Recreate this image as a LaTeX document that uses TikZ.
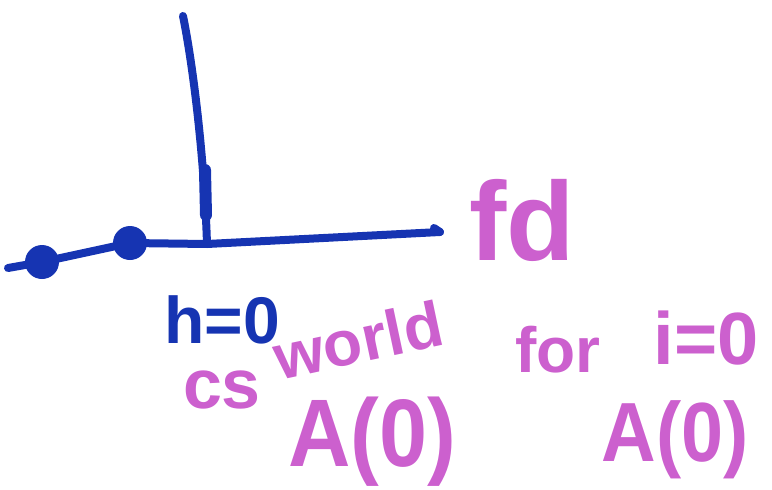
\documentclass[tikz,border=0pt]{standalone}
\usepackage{fontspec}
\setmainfont{Liberation Sans}
\usepackage{xcolor}
\usetikzlibrary{arrows.meta,positioning}

\definecolor{penblue}{RGB}{22,52,178}
\definecolor{penpink}{RGB}{204,96,206}

\begin{document}
\begin{tikzpicture}[
x=1pt, y=-1pt,
stroke/.style={draw=penblue, line width=8pt, line cap=round},
dot/.style={circle, fill=penblue, inner sep=0pt, minimum size=34pt},
blue label/.style={text=penblue, font=\bfseries\fontsize{66}{66}\selectfont, inner sep=0pt},
pink label/.style={text=penpink, font=\bfseries\fontsize{#1}{#1}\selectfont, inner sep=0pt},
pink label/.default=90
]
\useasboundingbox (0,0) rectangle (772,490);
% axes
\coordinate (xstart) at (8,268);
\coordinate (xend) at (440,232);
\coordinate (ytop) at (183,16);
\coordinate (origin) at (207,244);
\node[dot] (p0) at (42,262) {};
\node[dot] (p1) at (130,243) {};
\draw[stroke] (xstart) -- (p0.center) -- (p1.center) -- (origin) -- (xend);
\draw[stroke] (xend) -- ++(-6,-4);
\draw[stroke] (ytop) .. controls (192,60) and (204,150) .. (origin);
\draw[stroke, line width=12pt] (205,170) -- (206,215);
% labels
\node[pink label=112] (fd) at (522,220) {fd};
\node[blue label] (hzero) at (222,320) {h=0};
\node[pink label=70] (cs) at (222,390) {cs};
\node[pink label=64, rotate=12] (world) at (358,340) {world};
\node[pink label=64] (for) at (558,350) {for};
\node[pink label=74] (izero) at (706,338) {i=0};
\node[pink label=96, xscale=0.9] (Aleft) at (372,442) {A(0)};
\node[pink label=84, xscale=0.9] (Aright) at (675,440) {A(0)};
\end{tikzpicture}
\end{document}
